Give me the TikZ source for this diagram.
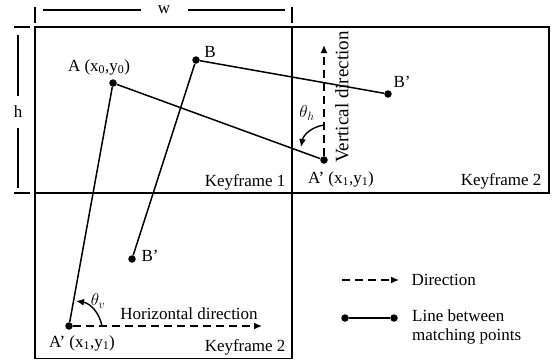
\documentclass[tikz,border=0pt]{standalone}
\usepackage{fontspec}
\setmainfont{Liberation Serif}
\usepackage{tikz}
\usetikzlibrary{arrows.meta, calc}

\begin{document}
\begin{tikzpicture}[x=1pt, y=1pt, font=\fontsize{17}{19}\selectfont,
        frame/.style={line width=1.6pt},
        match/.style={line width=1.5pt},
        pt/.style={circle, fill, inner sep=0pt, minimum size=7.5pt},
        dir/.style={line width=1.4pt, dash pattern=on 8pt off 5pt, -{Latex[length=8pt, width=7pt]}},
        ang/.style={line width=1.4pt, -{Latex[length=8pt, width=7pt]}}]
        \useasboundingbox (0,0) rectangle (553,360);

        % Frames
        \draw[frame] (35,167) rectangle (292,333);
        \draw[frame] (292,167) rectangle (549,333);
        \draw[frame] (35,1.5) rectangle (292,167);

        % Dimensions
        \draw[frame] (35,337) -- (35,353) (292,337) -- (292,353);
        \draw[frame] (43,350) -- node[fill=white, minimum width=47pt, inner sep=0pt] (w) {w} (285,350);
        \draw[frame] (14,333) -- (30,333) (14,167) -- (30,167);
        \draw[frame] (18,325) -- node[fill=white, minimum height=32pt, inner sep=0pt] (h) {h} (18,172);

        % Nodes
        \node[pt] (A) at (113,277) {};
        \node[pt] (B) at (196,300) {};
        \node[pt] (Bt) at (388,266) {};
        \node[pt] (At) at (324,200) {};
        \node[pt] (Bb) at (132,101) {};
        \node[pt] (Ab) at (69,34) {};
        \coordinate (vtip) at (324,315);
        \coordinate (htip) at (262,34);

        % Labels
        \node (lA) at (99,293) {A (x\textsubscript{0},y\textsubscript{0})};
        \node (lB) at (210,308) {B};
        \node (lBt) at (402,278) {B’};
        \node (lAt) at (341,181) {A’ (x\textsubscript{1},y\textsubscript{1})};
        \node (lBb) at (150,104) {B’};
        \node (lAb) at (82,17) {A’ (x\textsubscript{1},y\textsubscript{1})};
        \node[anchor=east] (kf1) at (289,178) {Keyframe 1};
        \node[anchor=east] (kf2t) at (545,179) {Keyframe 2};
        \node[anchor=east] (kf2b) at (289,13) {Keyframe 2};
        \node (hdir) at (189,46) {Horizontal direction};
        \node[rotate=90, font=\fontsize{19}{21}\selectfont] (vdir) at (342,263) {Vertical direction};
        \node (thh) at (307,247) {$\theta_h$};
        \node (thv) at (98,59) {$\theta_v$};

        % Matching lines
        \draw[match] (A) -- (At);
        \draw[match] (A) -- (Ab);
        \draw[match] (B) -- (Bt);
        \draw[match] (B) -- (Bb);

        % Directions
        \draw[dir] (At) -- (vtip);
        \draw[dir] (Ab) -- (htip);
        \draw[ang] ($(At)+(0,35)$) to[bend right=35] ($(At)+(-23,13)$);
        \draw[ang] ($(Ab)+(33,0)$) to[bend right=35] ($(Ab)+(7,25)$);

        % Legend
        \coordinate (d1) at (342,80);
        \coordinate (d2) at (399,80);
        \draw[dir] (d1) -- (d2);
        \node[anchor=west] (ldir) at (408,80) {Direction};
        \node[pt] (m1) at (345,42) {};
        \node[pt] (m2) at (394,42) {};
        \draw[match] (m1) -- (m2);
        \node[anchor=north west, align=left, inner sep=0pt] (lmatch) at (412,51) {Line between\\matching points};
\end{tikzpicture}
\end{document}
